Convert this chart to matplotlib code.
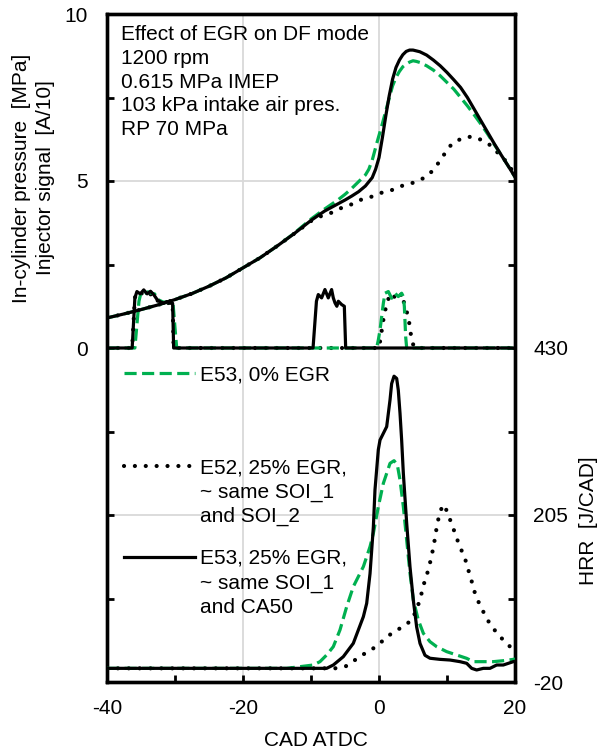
import matplotlib
matplotlib.use('Agg')
import matplotlib.pyplot as plt
import numpy as np

plt.rcParams['font.family'] = ['Liberation Sans', 'DejaVu Sans']
FS = 15

# ---------------- data ----------------
# In-cylinder pressure [MPa]
p_solid_x = [-40, -37.5, -35, -32.5, -30, -27.5, -25, -22.5, -20, -17.5, -15, -12.5, -10, -8, -6, -5, -4, -3, -2,
             -1, -0.5, 0, 0.5, 1, 1.5, 2, 2.5, 3, 3.5, 4, 4.5, 5, 6, 7, 8, 9, 10, 11, 12, 13, 14, 15, 16, 17,
             18, 19, 20]
p_solid_y = [0.90, 1.02, 1.15, 1.29, 1.45, 1.63, 1.85, 2.10, 2.40, 2.70, 3.05, 3.42, 3.82, 4.10, 4.32, 4.43, 4.55,
             4.68, 4.85, 5.10, 5.35, 5.70, 6.30, 6.95, 7.55, 8.05, 8.40, 8.62, 8.78, 8.88, 8.92, 8.92, 8.87, 8.77,
             8.62, 8.45, 8.25, 8.03, 7.80, 7.50, 7.15, 6.80, 6.45, 6.10, 5.77, 5.45, 5.12]

p_green_x = [-40, -37.5, -35, -32.5, -30, -27.5, -25, -22.5, -20, -17.5, -15, -12.5, -10, -8, -6, -5, -4, -3, -2,
             -1.5, -1, -0.3, 0.5, 1, 1.5, 2, 2.5, 3, 3.5, 4, 4.5, 5, 5.5, 6, 7, 8, 9, 10, 11, 12, 13, 14, 15, 16,
             17, 18, 19, 20]
p_green_y = [0.90, 1.02, 1.15, 1.29, 1.45, 1.63, 1.85, 2.10, 2.40, 2.70, 3.05, 3.43, 3.86, 4.16, 4.44, 4.60, 4.78,
             4.98, 5.18, 5.35, 5.62, 6.15, 6.72, 7.10, 7.48, 7.85, 8.10, 8.28, 8.42, 8.50, 8.56, 8.60, 8.58, 8.55,
             8.45, 8.32, 8.15, 7.95, 7.75, 7.50, 7.25, 6.98, 6.70, 6.40, 6.08, 5.77, 5.45, 5.12]

p_dot_x = [-40, -37.5, -35, -32.5, -30, -27.5, -25, -22.5, -20, -17.5, -15, -12.5, -10, -8.5, -7.2, -5.7, -4.26,
           -2.8, -1.1, 0.4, 1.9, 3.3, 5.05, 6.5, 7.75, 8.7, 9.7, 10.7, 12.2, 13.6, 15.1, 16.3, 17.3, 18.5, 19.75, 20]
p_dot_y = [0.90, 1.02, 1.15, 1.29, 1.45, 1.63, 1.85, 2.10, 2.40, 2.70, 3.05, 3.42, 3.80, 3.95, 4.03, 4.18, 4.28,
           4.43, 4.53, 4.65, 4.73, 4.85, 4.95, 5.08, 5.28, 5.53, 5.83, 6.11, 6.28, 6.33, 6.23, 6.08, 5.88, 5.63,
           5.27, 5.15]

# Injector signal [A/10]
inj_solid_x = [-40, -36.3, -35.9, -35.6, -35.1, -34.6, -34.1, -33.6, -33.1, -32.6, -32.2, -31.7, -31.2, -30.7,
               -30.35, -30.2, -9.7, -9.2, -8.93, -8.44, -7.95, -7.46, -6.97, -6.72, -6.47, -6.2, -5.98, -5.49,
               -5.1, -4.9, 20]
inj_solid_y = [0, 0, 1.5, 1.69, 1.62, 1.74, 1.62, 1.70, 1.59, 1.44, 1.39, 1.34, 1.39, 1.34, 1.34, 0, 0, 1.40, 1.60,
               1.50, 1.75, 1.50, 1.75, 1.50, 1.35, 1.25, 1.40, 1.30, 1.25, 0, 0]

inj_green_x = [-40, -35.9, -35.3, -35.0, -34.5, -34.0, -33.5, -33.0, -32.5, -31.8, -31.0, -30.3, -30.0, -29.75,
               -0.35, -0.1, 0.15, 0.64, 0.88, 1.37, 1.86, 2.35, 2.84, 3.33, 3.58, 3.73, 3.92, 4.07, 20]
inj_green_y = [0, 0, 1.40, 1.66, 1.62, 1.68, 1.64, 1.62, 1.45, 1.38, 1.36, 1.36, 0.6, 0, 0, 0.24, 0.54, 1.34,
               1.64, 1.69, 1.49, 1.64, 1.54, 1.64, 1.54, 1.24, 0.34, 0, 0]

inj_dot_x = [-40, -36.3, -35.9, -35.6, -35.0, -34.4, -33.8, -33.2, -32.6, -32.0, -31.4, -30.8, -30.35, -30.2,
             0.0, 0.15, 0.64, 1.13, 1.62, 2.1, 2.6, 3.09, 3.33, 3.82, 4.31, 4.56, 4.8, 5.05, 5.29, 20]
inj_dot_y = [0, 0, 1.5, 1.68, 1.62, 1.70, 1.60, 1.62, 1.42, 1.38, 1.36, 1.34, 1.34, 0, 0, 0.19, 0.84, 1.34, 1.59,
             1.49, 1.64, 1.54, 1.64, 1.24, 0.94, 0.59, 0.24, 0.09, 0, 0]

# Heat release rate [J/CAD]
hrr_solid_x = [-40, -7.7, -6.72, -5.25, -3.78, -2.30, -1.81, -1.32, -0.83, -0.59, -0.10, 0.15, 0.64, 1.13, 1.62,
               1.86, 2.21, 2.60, 2.84, 3.09, 3.33, 3.58, 4.07, 4.56, 5.05, 5.54, 6.03, 6.76, 7.50, 8.97, 10.44,
               11.91, 12.89, 13.63, 14.36, 15.34, 16.32, 17.30, 18.28, 19.75, 20]
hrr_solid_y = [-1.6, -1.6, 2.9, 14.1, 32.1, 68, 86, 126, 189, 239, 293, 306, 315, 324, 360, 382, 392, 389, 373,
               342, 306, 261, 194, 135, 90, 54, 32, 16, 12, 10.5, 9.6, 7.4, 5.2, -1.6, -3.8, -1.6, -1.6, 2.9, 2.9,
               7.4, 8]

hrr_green_x = [-40, -13.58, -9.66, -8.68, -7.70, -6.72, -5.74, -4.75, -3.78, -2.30, -1.32, -0.83, -0.10, 0.64,
               1.13, 1.62, 2.21, 2.70, 3.09, 3.58, 4.07, 4.56, 5.05, 5.78, 6.52, 7.50, 8.48, 9.95, 11.42, 12.89,
               13.87, 15.34, 16.81, 18.28, 19.75, 20]
hrr_green_y = [-1.6, -1.6, 2.9, 7.4, 16.4, 27.6, 50.1, 81.5, 108.4, 135.4, 162.3, 180.3, 216.2, 247.7, 261.1,
               274.6, 278.2, 272.4, 252.2, 216.2, 171.3, 126.4, 90.5, 63.5, 45.6, 34.3, 27.6, 20.9, 16.4, 11.9,
               7.4, 7.4, 7.4, 8.7, 10.5, 11]

hrr_dot_x = [-40, -6.47, -4.75, -3.53, -2.06, -0.83, 0.39, 1.86, 3.09, 4.8, 5.4, 6.0, 6.6, 7.25, 7.75, 8.2, 8.6,
             9.1, 9.5, 10.0, 10.4, 11.0, 11.5, 12.0, 12.6, 13.0, 13.5, 14.1, 14.9, 15.5, 16.2, 17.0, 17.6, 18.3,
             19.0, 19.7, 20]
hrr_dot_y = [-1.6, -1.6, 1.6, 9.6, 18.6, 25.4, 34.3, 45.6, 52.3, 63, 75, 90, 112, 131, 150, 172, 195, 212, 219,
             210, 200, 185, 172, 160, 148, 135, 120, 100, 82, 72, 60, 50, 44, 36, 30, 24, 22]

text_lines = ["Effect of EGR on DF mode", "1200 rpm", "0.615 MPa IMEP",
              "103 kPa intake air pres.", "RP 70 MPa"]
legend_labels = [["E53, 0% EGR"],
                 ["E52, 25% EGR,", "~ same SOI_1", "and SOI_2"],
                 ["E53, 25% EGR,", "~ same SOI_1", "and CA50"]]

# ---------------- styles ----------------
GREEN = '#00B050'
LW = 2.3
st_green = dict(color=GREEN, lw=LW, linestyle=(0, (3.8, 1.7)))
st_dot = dict(color='black', lw=3.0, linestyle=(0, (0.01, 2.6)), dash_capstyle='round')
st_solid = dict(color='black', lw=LW, linestyle='-')

W, H = 602, 751
fig = plt.figure(figsize=(W / 100, H / 100), dpi=100)
L, R, T, B = 107, 515, 14, 682
ax = fig.add_axes([L / W, 1 - B / H, (R - L) / W, (B - T) / H])
ax2 = ax.twinx()

ax.set_xlim(-40, 20)
ax.set_ylim(-10, 10)
ax2.set_ylim(-20, 880)

# grid
for gx in [-20, 0]:
    ax.axvline(gx, color='#d9d9d9', lw=1.3, zorder=0)
for gy in [5, -5]:
    ax.axhline(gy, color='#d9d9d9', lw=1.3, zorder=0)

# pressure + injector
ax.plot(p_dot_x, p_dot_y, **st_dot, zorder=3)
ax.plot(inj_dot_x, inj_dot_y, **st_dot, zorder=3)
ax.plot(p_green_x, p_green_y, **st_green, zorder=4)
ax.plot(inj_green_x, inj_green_y, **st_green, zorder=4)
ax.plot(p_solid_x, p_solid_y, **st_solid, zorder=5)
ax.plot(inj_solid_x, inj_solid_y, **st_solid, zorder=5)

# HRR
ax2.plot(hrr_dot_x, hrr_dot_y, **st_dot, zorder=3)
ax2.plot(hrr_green_x, hrr_green_y, **st_green, zorder=4)
ax2.plot(hrr_solid_x, hrr_solid_y, **st_solid, zorder=5)

# ticks
ax.set_xticks([-40, -30, -20, -10, 0, 10, 20])
ax.set_xticklabels(['-40', '', '-20', '', '0', '', '20'], fontsize=FS)
ax.set_yticks(np.arange(-10, 10.01, 2.5))
ax.set_yticklabels(['', '', '', '', '0', '', '5', '', '10'], fontsize=FS)
ax.tick_params(axis='x', direction='in', length=5, width=2, pad=12, top=False)
ax.tick_params(axis='y', direction='in', length=5, width=2, pad=14, left=True, right=True)
ax2.set_yticks([-20, 205, 430])
ax2.set_yticklabels(['-20', '205', '430'], fontsize=FS)
ax2.tick_params(axis='y', length=0, pad=13)

for a in (ax, ax2):
    for s in a.spines.values():
        s.set_linewidth(2.4)
        s.set_color('black')

fig.text(316 / W, 1 - 740 / H, "CAD ATDC", ha='center', va='center', fontsize=FS)
fig.text(22 / W, 1 - 178 / H, "In-cylinder pressure  [MPa]", rotation=90, ha='center', va='center', fontsize=FS)
fig.text(46 / W, 1 - 178 / H, "Injector signal  [A/10]", rotation=90, ha='center', va='center', fontsize=FS)
fig.text(588 / W, 1 - 521 / H, "HRR  [J/CAD]", rotation=90, ha='center', va='center', fontsize=FS)


def axc(px, py):
    return (px - L) / (R - L), (B - py) / (B - T)


# annotation block
for i, line in enumerate(text_lines):
    x, y = axc(121, 40 + 23.8 * i)
    ax.text(x, y, line, transform=ax.transAxes, fontsize=FS, va='baseline', ha='left', zorder=6)

# legend (drawn manually)
handle_styles = [st_green, st_dot, st_solid]
handle_x = [(124, 195), (124, 192), (124, 195)]
handle_y = [373.3, 466, 557.3]
text_base = [380.5, 473.5, 564]
for sty, (hx0, hx1), hy, tb, labels in zip(handle_styles, handle_x, handle_y, text_base, legend_labels):
    x0, y0 = axc(hx0, hy)
    x1, _ = axc(hx1, hy)
    ax.plot([x0, x1], [y0, y0], transform=ax.transAxes, **sty, zorder=6)
    for j, lab in enumerate(labels):
        tx, ty = axc(200, tb + 24.3 * j)
        ax.text(tx, ty, lab, transform=ax.transAxes, fontsize=FS, va='baseline', ha='left', zorder=6)

fig.savefig('out.png', dpi=100)
